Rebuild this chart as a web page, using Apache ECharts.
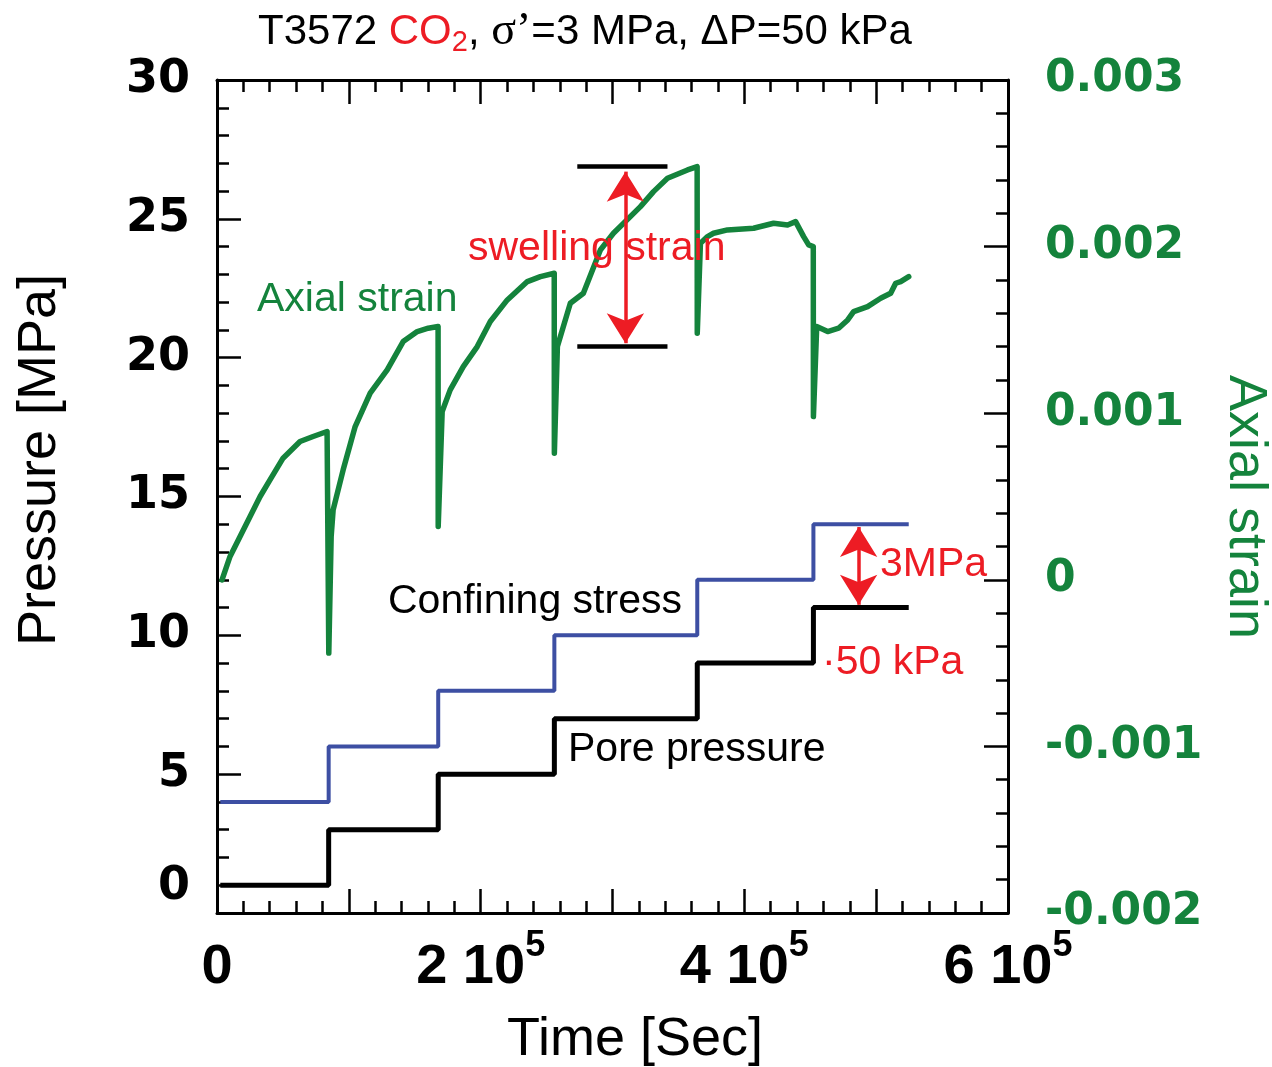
<!DOCTYPE html>
<html>
<head>
<meta charset="utf-8">
<script src="https://cdn.jsdelivr.net/npm/echarts@6/dist/echarts.min.js"></script>
<style>
  html, body { margin: 0; padding: 0; background: #fff; }
  #chart { width: 1272px; height: 1067px; }
</style>
</head>
<body>
<div id="chart"></div>
<script>
// ---- Test T3572: CO2 injection, effective stress 3 MPa, pressure steps ----

// Times (s) at which pore pressure and confining stress were stepped up
const stepTimes = [2500, 84700, 167800, 255900, 364300, 452400, 524700];
// Pore pressure (MPa) held from each step time to the next
const porePressure = [1, 3, 5, 7, 9, 11, 11];
// Confining stress (MPa), always 3 MPa above pore pressure
const confiningStress = [4, 6, 8, 10, 12, 14, 14];

// Axial strain record: time (s) and strain (-)
const strainTimes = [
  3800, 9900, 17500, 25100, 32700, 40200, 50100, 63000, 72900, 83500, 84700,
  84800, 86600, 88100, 95700, 104800, 116200, 129100, 141200, 151900, 160200, 167700,
  167800, 170800, 176900, 186800, 197400, 207300, 220200, 235400, 245300, 255800,
  255900, 258200, 268000, 277900, 290800, 300700, 321200, 331100, 341700, 356900, 364200,
  364300, 366700, 372100, 376600, 387200, 407000, 422200, 432800, 438900, 445000, 448800, 452300,
  452400, 454900, 463200, 471500, 478400, 482900, 493500, 503400, 511000, 514800, 518600, 524700
];
const axialStrain = [
  0.00000, 0.00014, 0.00026, 0.00038, 0.00050, 0.00060, 0.00073, 0.00083, 0.00086, 0.00089, 0.00089,
  -0.00044, 0.00026, 0.00042, 0.00066, 0.00092, 0.00112, 0.00126, 0.00143, 0.00149, 0.00151, 0.00152,
  0.00032, 0.00101, 0.00114, 0.00128, 0.00140, 0.00155, 0.00168, 0.00179, 0.00182, 0.00184,
  0.00076, 0.00140, 0.00166, 0.00172, 0.00198, 0.00208, 0.00224, 0.00233, 0.00241, 0.00246, 0.00248,
  0.00148, 0.00202, 0.00206, 0.00208, 0.00210, 0.00211, 0.00214, 0.00213, 0.00215, 0.00206, 0.00201, 0.00200,
  0.00098, 0.00152, 0.00149, 0.00151, 0.00156, 0.00161, 0.00164, 0.00169, 0.00172, 0.00178, 0.00179, 0.00182
];

// Labelled time ticks and their mantissas (written as "m 10^5")
const timeTickValues = [0, 200000, 400000, 600000];
const timeTickLabels = ['0', '2 10', '4 10', '6 10'];

// Swelling-strain bracket (time span, strain levels) and the 3 MPa gap marker
const swellSpan = [273300, 341700];
const swellLevels = [0.00248, 0.00140];
const swellArrowTime = 309800;
const gapArrowTime = 486700;
const gapLevels = [14, 11];

const GREEN = '#14833c';
const BLUE = '#3d4fa3';
const RED = '#ed1c24';
const SANS = '"Liberation Sans", Arial, Helvetica, sans-serif';
const SERIF = '"Liberation Serif", "Times New Roman", serif';
const WIDE = '"DejaVu Sans", Verdana, sans-serif';

const zip = (xs, ys) => xs.map((x, i) => [x, ys[i]]);

const frameLine = { color: '#000', width: 3 };
const tickLine = { color: '#000', width: 2.5 };

const timeAxisBase = {
  type: 'value', min: 0, max: 600000, interval: 100000,
  axisLine: { show: true, onZero: false, lineStyle: frameLine },
  axisTick: { show: true, inside: true, length: 24, lineStyle: tickLine },
  minorTick: { show: true, splitNumber: 5, length: 12, lineStyle: tickLine },
  splitLine: { show: false }, minorSplitLine: { show: false }
};

const arrowEnd = (coord) => ({ coord, symbol: 'arrow', symbolSize: [28, 30] });

const chart = echarts.init(document.getElementById('chart'), null, { renderer: 'canvas' });

chart.setOption({
  animation: false,
  backgroundColor: '#fff',
  grid: { left: 217, right: 264, top: 80, bottom: 154, containLabel: false, outerBoundsMode: 'none' },
  xAxis: [
    Object.assign({}, timeAxisBase, {
      position: 'bottom',
      axisLabel: {
        show: true, margin: 15, color: '#000',
        fontFamily: SANS, fontWeight: 'bold', fontSize: 56,
        formatter: (v) => {
          const i = timeTickValues.indexOf(Math.round(v));
          if (i < 0) return '';
          return i === 0 ? '{b|' + timeTickLabels[i] + '}' : '{b|' + timeTickLabels[i] + '}{s|5}';
        },
        rich: {
          b: { fontFamily: SANS, fontWeight: 'bold', fontSize: 56, lineHeight: 80, color: '#000', verticalAlign: 'middle' },
          s: { fontFamily: SANS, fontWeight: 'bold', fontSize: 36, lineHeight: 36, color: '#000', verticalAlign: 'top' }
        }
      }
    }),
    Object.assign({}, timeAxisBase, { position: 'top', axisLabel: { show: false } })
  ],
  yAxis: [
    {
      type: 'value', min: 0, max: 30, interval: 5, position: 'left',
      axisLine: { show: true, onZero: false, lineStyle: frameLine },
      axisTick: { show: true, inside: true, length: 24, lineStyle: tickLine },
      minorTick: { show: true, splitNumber: 5, length: 12, lineStyle: tickLine },
      splitLine: { show: false },
      axisLabel: {
        margin: 27, color: '#000', fontFamily: WIDE, fontWeight: 'bold', fontSize: 46,
        formatter: (v) => (v === 0 ? '{z|0}\n{sp| }' : String(v)),
        rich: {
          z: { fontFamily: WIDE, fontWeight: 'bold', fontSize: 46, lineHeight: 50, color: '#000' },
          sp: { fontSize: 1, lineHeight: 52 }
        }
      }
    },
    {
      type: 'value', min: -0.002, max: 0.003, interval: 0.001, position: 'right',
      axisLine: { show: true, onZero: false, lineStyle: frameLine },
      axisTick: { show: true, inside: true, length: 24, lineStyle: tickLine },
      minorTick: { show: true, splitNumber: 5, length: 12, lineStyle: tickLine },
      splitLine: { show: false },
      axisLabel: {
        margin: 37, color: GREEN, fontFamily: WIDE, fontWeight: 'bold', fontSize: 44,
        padding: [0, 0, 14, 0],
        formatter: (v) => {
          const r = Math.round(v * 1000) / 1000;
          return r === 0 ? '0' : r.toFixed(3);
        }
      }
    }
  ],
  series: [
    {
      name: 'Pore pressure', type: 'line', step: 'end', xAxisIndex: 0, yAxisIndex: 0,
      data: zip(stepTimes, porePressure), showSymbol: false, symbol: 'none',
      lineStyle: { color: '#000', width: 5 }, z: 3,
      markLine: {
        silent: true, symbol: 'none', label: { show: false },
        data: [[
          Object.assign(arrowEnd([gapArrowTime, gapLevels[0] - 0.1]), { lineStyle: { color: RED, width: 3.5, type: 'solid' } }),
          arrowEnd([gapArrowTime, gapLevels[1] + 0.1])
        ]]
      }
    },
    {
      name: 'Confining stress', type: 'line', step: 'end', xAxisIndex: 0, yAxisIndex: 0,
      data: zip(stepTimes, confiningStress), showSymbol: false, symbol: 'none',
      lineStyle: { color: BLUE, width: 4 }, z: 3
    },
    {
      name: 'Axial strain', type: 'line', xAxisIndex: 0, yAxisIndex: 1,
      data: zip(strainTimes, axialStrain), showSymbol: false, symbol: 'none',
      lineStyle: { color: GREEN, width: 5.5, join: 'round', cap: 'round' }, z: 4,
      markLine: {
        silent: true, symbol: 'none', label: { show: false },
        data: [
          [{ coord: [swellSpan[0], swellLevels[0]], lineStyle: { color: '#000', width: 4.5, type: 'solid' } },
           { coord: [swellSpan[1], swellLevels[0]] }],
          [{ coord: [swellSpan[0], swellLevels[1]], lineStyle: { color: '#000', width: 4.5, type: 'solid' } },
           { coord: [swellSpan[1], swellLevels[1]] }],
          [Object.assign(arrowEnd([swellArrowTime, swellLevels[0] - 0.00003]), { lineStyle: { color: RED, width: 3.5, type: 'solid' } }),
           arrowEnd([swellArrowTime, swellLevels[1] + 0.00002])]
        ]
      }
    }
  ],
  graphic: [
    {
      type: 'text', x: 585, y: 32,
      style: {
        text: '{n|T3572 }{r|CO}{rs|2}{n|, }{g|σ’}{n|=3 MPa, ΔP=50 kPa}',
        align: 'center', verticalAlign: 'middle', textAlign: 'center', textVerticalAlign: 'middle',
        rich: {
          n: { fontFamily: SANS, fontSize: 42, lineHeight: 50, fill: '#000', color: '#000' },
          r: { fontFamily: SANS, fontSize: 42, lineHeight: 50, fill: RED, color: RED },
          rs: { fontFamily: SANS, fontSize: 29, lineHeight: 42, fill: RED, color: RED, verticalAlign: 'bottom' },
          g: { fontFamily: SERIF, fontSize: 46, lineHeight: 50, fill: '#000', color: '#000' }
        }
      }
    },
    { type: 'text', x: 40, y: 460, rotation: Math.PI / 2,
      style: { text: 'Pressure [MPa]', fontFamily: SANS, fontSize: 54, fill: '#000',
               align: 'center', verticalAlign: 'middle', textAlign: 'center', textVerticalAlign: 'middle' } },
    { type: 'text', x: 635, y: 1040,
      style: { text: 'Time [Sec]', fontFamily: SANS, fontSize: 54, fill: '#000',
               align: 'center', verticalAlign: 'middle', textAlign: 'center', textVerticalAlign: 'middle' } },
    { type: 'text', x: 1245, y: 507, rotation: -Math.PI / 2,
      style: { text: 'Axial strain', fontFamily: SANS, fontSize: 54, fill: GREEN,
               align: 'center', verticalAlign: 'middle', textAlign: 'center', textVerticalAlign: 'middle' } }
  ].concat([
    ['Axial strain', 257, 300, GREEN],
    ['swelling strain', 468, 249, RED],
    ['Confining stress', 388, 602, '#000'],
    ['Pore pressure', 568, 750, '#000'],
    ['3MPa', 880, 565, RED],
    ['·50 kPa', 822, 663, RED]
  ].map(([text, x, y, fill]) => ({
    type: 'text', x, y, z: 10,
    style: { text, fontFamily: SANS, fontSize: 41, fill,
             align: 'left', verticalAlign: 'middle', textAlign: 'left', textVerticalAlign: 'middle' }
  })))
});
</script>
</body>
</html>
